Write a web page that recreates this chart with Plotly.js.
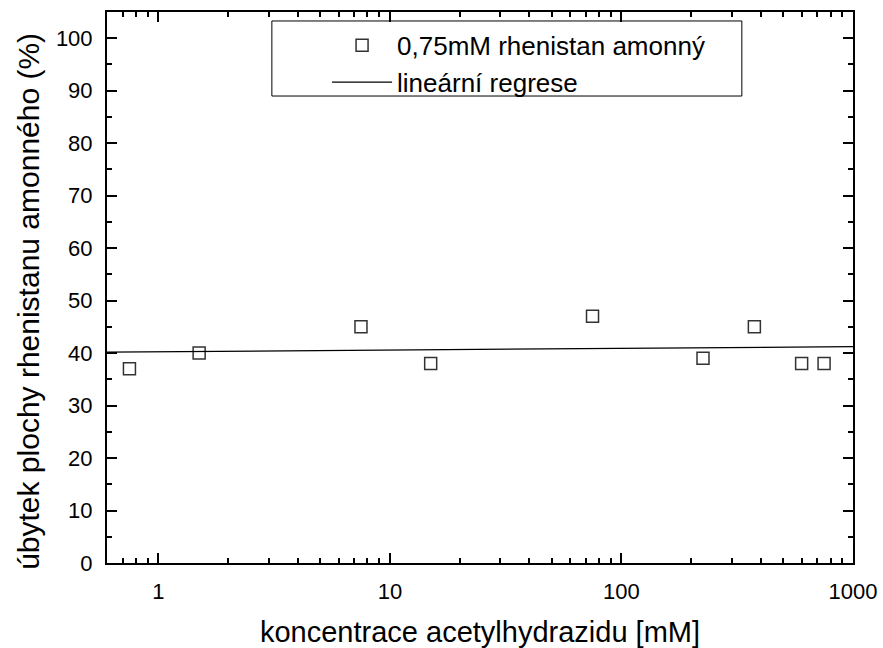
<!DOCTYPE html>
<html>
<head>
<meta charset="utf-8">
<script src="https://cdn.plot.ly/plotly-3.0.1.min.js"></script>
<style>html,body{margin:0;padding:0;background:#fff;}#chart{width:883px;height:648px;}</style>
</head>
<body>
<div id="chart"></div>
<script>
// Data
const concentrations = [0.75, 1.5, 7.5, 15, 75, 225, 375, 600, 750];   // mM acetylhydrazide
const decreasePct   = [37, 40, 45, 38, 47, 39, 45, 38, 38];            // % decrease of peak area
const seriesName = '0,75mM rhenistan amonný';
const fitName = 'lineární regrese';
const xTitle = 'koncentrace acetylhydrazidu [mM]';
const yTitle = 'úbytek plochy rhenistanu amonného (%)';

// Linear regression of y against log10(x)
const lx = concentrations.map(v => Math.log10(v));
const n = lx.length;
const mx = lx.reduce((a, b) => a + b, 0) / n;
const my = decreasePct.reduce((a, b) => a + b, 0) / n;
let sxy = 0, sxx = 0;
for (let i = 0; i < n; i++) { sxy += (lx[i] - mx) * (decreasePct[i] - my); sxx += (lx[i] - mx) ** 2; }
const slope = sxy / sxx, intercept = my - slope * mx;

const xRange = [Math.log10(0.6), 3];
const fitX = [Math.pow(10, xRange[0]), Math.pow(10, xRange[1])];
const fitY = fitX.map(v => intercept + slope * Math.log10(v));

const font = 'Liberation Sans, Arial, sans-serif';
const traces = [
  {x: concentrations, y: decreasePct, type: 'scatter', mode: 'markers', name: seriesName,
   marker: {symbol: 'square-open', size: 12, color: '#333', line: {width: 1.5, color: '#333'}}},
  {x: fitX, y: fitY, type: 'scatter', mode: 'lines', name: fitName,
   line: {color: '#000', width: 1.2}}
];

const axisCommon = {
  showline: true, linecolor: '#000', linewidth: 2, mirror: 'ticks',
  ticks: 'inside', ticklen: 10, tickwidth: 2, tickcolor: '#000',
  showgrid: false, zeroline: false,
  tickfont: {family: font, size: 22, color: '#000'},
  ticklabelstandoff: 8
};

const layout = {
  width: 883, height: 648,
  margin: {l: 107, r: 30, t: 12, b: 85},
  paper_bgcolor: '#fff', plot_bgcolor: '#fff',
  showlegend: true,
  legend: {x: 0.295, y: 0.982, xanchor: 'left', yanchor: 'top', itemwidth: 60,
           bgcolor: 'rgba(0,0,0,0)', borderwidth: 0, tracegroupgap: 0,
           font: {family: font, size: 26, color: '#000'}},
  shapes: [{type: 'rect', xref: 'paper', yref: 'paper', x0: 0.221, x1: 0.851, y0: 0.8475, y1: 0.9837,
            line: {color: '#000', width: 1}, fillcolor: 'rgba(0,0,0,0)'}],
  annotations: [{text: yTitle, xref: 'paper', yref: 'paper', x: -0.1045, y: 0.474,
                 xanchor: 'center', yanchor: 'middle', textangle: -90, showarrow: false,
                 font: {family: font, size: 30, color: '#000'}}],
  xaxis: Object.assign({}, axisCommon, {
    type: 'log', range: xRange, dtick: 1,
    minor: {ticks: 'inside', ticklen: 5, tickwidth: 2, tickcolor: '#000', dtick: 'D1', showgrid: false},
    title: {text: xTitle, font: {family: font, size: 29, color: '#000'}, standoff: 18}
  }),
  yaxis: Object.assign({}, axisCommon, {
    range: [0, 105], dtick: 10, tick0: 0,
    minor: {ticks: 'inside', ticklen: 5, tickwidth: 2, tickcolor: '#000', dtick: 5, showgrid: false}
  })
};

Plotly.newPlot('chart', traces, layout, {displayModeBar: false, staticPlot: true});
</script>
</body>
</html>
